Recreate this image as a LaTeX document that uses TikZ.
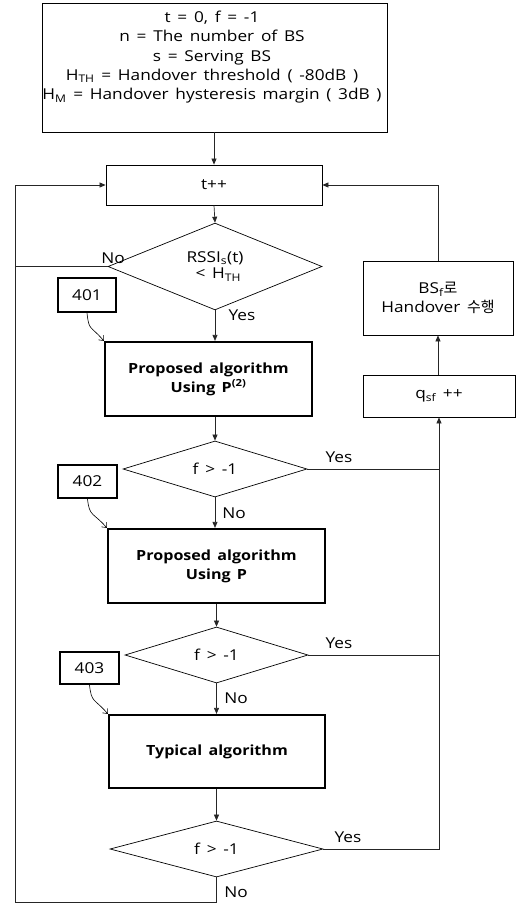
\documentclass[tikz,border=0pt]{standalone}
\usepackage{fontspec}
\setmainfont{Open Sans}[FakeStretch=1.15, WordSpace=1.5]
\newfontfamily\kr{Noto Sans CJK KR}
\usetikzlibrary{shapes.geometric,arrows.meta}
\begin{document}
\begin{tikzpicture}[x=1pt,y=-1pt,
  font=\fontsize{15}{18.5}\selectfont,
  box/.style={draw, line width=0.8pt, inner sep=0pt, align=center},
  thickbox/.style={draw, line width=2.2pt, inner sep=0pt, align=center, font=\fontsize{14}{19}\selectfont\bfseries},
  tagbox/.style={draw, line width=2pt, inner sep=0pt},
  dec/.style={draw, diamond, line width=0.7pt, inner sep=0pt, align=center},
  conn/.style={line width=0.7pt, black!85},
  arr/.style={conn, -{Triangle[length=6pt,width=5pt]}},
  tagarr/.style={line width=0.6pt, -{Straight Barb[length=4pt,width=7pt]}},
  lbl/.style={inner sep=0pt}
]
\useasboundingbox (0,0) rectangle (521,904);

% initial box
\node[box, minimum width=345pt, minimum height=129pt] (init) at (214.5,67.5) {};
\node[align=center, anchor=north, inner sep=0pt, font=\fontsize{15}{19.2}\selectfont] (inittxt) at (212,11)
  {t = 0, f = -1\\
   n = The number of BS\\
   s = Serving BS\\
   H\textsubscript{TH} = Handover threshold ( -80dB )\\
   H\textsubscript{M} = Handover hysteresis margin ( 3dB )};

\node[box, minimum width=216pt, minimum height=40pt] (tpp) at (214,185) {t++};
\node[dec, minimum width=214pt, minimum height=55pt] (d1) at (215,266.5)
  {RSSI\textsubscript{s}(t)\\[-2pt] {\ }< H\textsubscript{TH}};

\node[tagbox, minimum width=58pt, minimum height=34pt] (t401) at (87,295) {401};
\node[thickbox, minimum width=207pt, minimum height=74pt] (p1) at (208.5,379)
  {Proposed algorithm\\Using P\textsuperscript{(2)}};
\node[dec, minimum width=184pt, minimum height=56pt] (d2) at (215,469) {f > -1};

\node[tagbox, minimum width=59pt, minimum height=33pt] (t402) at (87.5,481.5) {402};
\node[thickbox, minimum width=217pt, minimum height=74pt] (p2) at (216.5,566)
  {Proposed algorithm\\Using P};
\node[dec, minimum width=183pt, minimum height=56pt] (d3) at (216.5,655) {f > -1};

\node[tagbox, minimum width=59pt, minimum height=32pt] (t403) at (89.5,668) {403};
\node[thickbox, minimum width=216pt, minimum height=73pt] (ty) at (217,751.5)
  {Typical algorithm};
\node[dec, minimum width=213pt, minimum height=56pt] (d4) at (216.5,849) {f > -1};

\node[box, minimum width=152pt, minimum height=42pt] (q) at (439,396) {q\textsubscript{sf} ++};
\node[box, minimum width=150pt, minimum height=74pt] (ho) at (438,298)
  {BS\textsubscript{f}{\kr 로}\\Handover {\kr 수행}};

\coordinate (loopbl) at (15,902);

% labels
\node[lbl] (no1) at (113,258) {No};
\node[lbl] (yes1) at (242,315) {Yes};
\node[lbl] (yes2) at (339,457) {Yes};
\node[lbl] (no2) at (234,513) {No};
\node[lbl] (yes3) at (339,643) {Yes};
\node[lbl] (no3) at (236,698) {No};
\node[lbl] (yes4) at (348,837) {Yes};
\node[lbl] (no4) at (236,892) {No};

% connectors
\draw[arr] (tpp.north |- init.south) -- (tpp.north);
\draw[arr] (tpp.south) -- (d1.north);
\draw[conn] (d1.west) -- (d1.west -| loopbl);
\draw[arr] (d1.south) -- (d1.south |- p1.north);
\draw[arr] (d2.north |- p1.south) -- (d2.north);
\draw[conn] (d2.east) -- (d2.east -| q.south);
\draw[arr] (d2.south) -- (d2.south |- p2.north);
\draw[arr] (d3.north |- p2.south) -- (d3.north);
\draw[conn] (d3.east) -- (d3.east -| q.south);
\draw[arr] (d3.south) -- (d3.south |- ty.north);
\draw[arr] (ty.south -| d4.north) -- (d4.north);
\draw[arr] (d4.east) -- (d4.east -| q.south) -- (q.south);
\draw[arr] (d4.south) -- (d4.south |- loopbl) -- (loopbl) -- (loopbl |- tpp.west) -- (tpp.west);
\draw[arr] (q.north) -- (q.north -| ho.south) -- (ho.south);
\draw[arr] (ho.north) -- (ho.north |- tpp.east) -- (tpp.east);

% tag arrows
\draw[tagarr] (t401.south) .. controls +(2,18) and +(-14,-16) .. (p1.north west);
\draw[tagarr] (t402.south) .. controls +(2,18) and +(-14,-16) .. (p2.north west);
\draw[tagarr] (t403.south) .. controls +(2,18) and +(-14,-16) .. (ty.north west);
\end{tikzpicture}
\end{document}
